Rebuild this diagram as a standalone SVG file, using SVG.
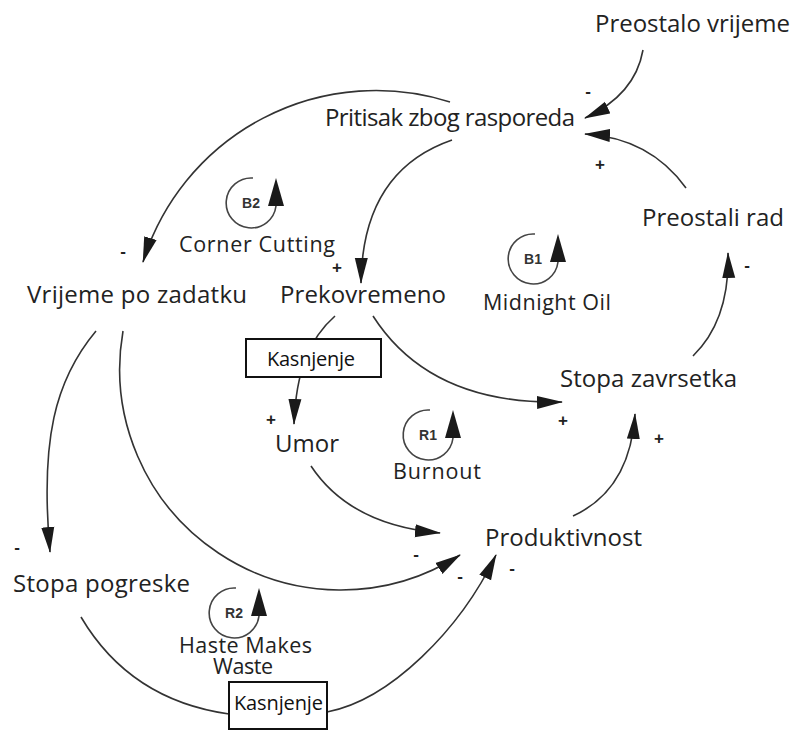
<svg xmlns="http://www.w3.org/2000/svg" width="796" height="733" viewBox="0 0 796 733">
<style>
  .lbl{font-family:"Open Sans","Noto Sans","DejaVu Sans",sans-serif;font-size:24px;fill:#222}
  .lname{font-family:"Open Sans","Noto Sans","DejaVu Sans",sans-serif;font-size:21.5px;fill:#222}
  .delay{font-family:"Open Sans","Noto Sans","DejaVu Sans",sans-serif;font-size:20px;fill:#111}
  .sign{font-family:"Liberation Sans",Arial,sans-serif;font-size:17px;font-weight:bold;fill:#222;text-anchor:middle}
  .conn{fill:none;stroke:#333;stroke-width:1.6}
  .arr{marker-end:url(#ah)}
  .box{fill:#fff;stroke:#111;stroke-width:2}
  .lid{font-family:"Liberation Sans",Arial,sans-serif;font-weight:bold;font-size:14px;fill:#333;text-anchor:middle}
  .larc{fill:none;stroke:#444;stroke-width:1.6}
  .lhead{fill:#1a1a1a}
</style>
<defs>
  <marker id="ah" markerUnits="userSpaceOnUse" markerWidth="26" markerHeight="14" viewBox="0 0 26 14" refX="25" refY="7" orient="auto">
    <path d="M0,0.5 L26,7 L0,13.5 Z" fill="#1a1a1a"/>
  </marker>
  <g id="loopsym">
    <path class="larc" d="M2,-25 A25,25 0 1 0 25,3"/>
    <polygon class="lhead" points="17,3 33,3 25,-25"/>
  </g>
</defs>

<g id="connectors">
  <path class="conn arr" d="M643,50 Q635,95 585,118"/>
  <path class="conn arr" d="M686,188 Q650,138 585,134"/>
  <path class="conn arr" d="M450,102 A244,244 0 0 0 143,262"/>
  <path class="conn arr" d="M452,140 C400,158 362,200 361,283"/>
  <path class="conn arr" d="M96,331 C55,380 40,440 50,552"/>
  <path class="conn arr" d="M123,331 A221,221 0 0 0 460,555"/>
  <path class="conn arr" d="M335,316 C310,338 296,370 294,424"/>
  <path class="conn arr" d="M373,316 Q430,405 562,402"/>
  <path class="conn arr" d="M693,356 Q730,320 728,253"/>
  <path class="conn arr" d="M573,516 Q630,490 635,414"/>
  <path class="conn arr" d="M311,466 Q350,525 440,533"/>
  <path class="conn" d="M81,617 Q130,700 229,714"/>
  <path class="conn arr" d="M327,712 C390,700 460,630 496,555"/>
</g>

<g id="signs">
  <text class="sign" x="588" y="97">-</text>
  <text class="sign" x="600" y="170">+</text>
  <text class="sign" x="123" y="257">-</text>
  <text class="sign" x="337" y="273">+</text>
  <text class="sign" x="747" y="271">-</text>
  <text class="sign" x="271" y="425">+</text>
  <text class="sign" x="563" y="426">+</text>
  <text class="sign" x="659" y="444">+</text>
  <text class="sign" x="17" y="553">-</text>
  <text class="sign" x="416" y="560">-</text>
  <text class="sign" x="460" y="582">-</text>
  <text class="sign" x="512" y="574">-</text>
</g>

<g id="preostalo-vrijeme"><text class="lbl" x="595" y="32" textLength="195">Preostalo vrijeme</text></g>
<g id="pritisak"><text class="lbl" x="325" y="126" textLength="250">Pritisak zbog rasporeda</text></g>
<g id="preostali-rad"><text class="lbl" x="642" y="226" textLength="142">Preostali rad</text></g>
<g id="vrijeme-po-zadatku"><text class="lbl" x="27" y="303" textLength="220">Vrijeme po zadatku</text></g>
<g id="prekovremeno"><text class="lbl" x="280" y="303" textLength="166">Prekovremeno</text></g>
<g id="stopa-zavrsetka"><text class="lbl" x="560" y="387" textLength="177">Stopa zavrsetka</text></g>
<g id="umor"><text class="lbl" x="275" y="452" textLength="64">Umor</text></g>
<g id="produktivnost"><text class="lbl" x="485" y="546" textLength="157">Produktivnost</text></g>
<g id="stopa-pogreske"><text class="lbl" x="13" y="592" textLength="177">Stopa pogreske</text></g>

<g id="delay1">
  <rect class="box" x="246" y="339" width="135" height="38"/>
  <text class="delay" x="267" y="366" textLength="88">Kasnjenje</text>
</g>
<g id="delay2">
  <rect class="box" x="229" y="682" width="98" height="47"/>
  <text class="delay" x="234" y="710" textLength="89">Kasnjenje</text>
</g>

<g id="loop-b2">
  <use href="#loopsym" x="251" y="203"/>
  <text class="lid" x="251" y="208">B2</text>
  <text class="lname" x="179" y="252" textLength="156">Corner Cutting</text>
</g>
<g id="loop-b1">
  <use href="#loopsym" x="533" y="259"/>
  <text class="lid" x="533" y="264">B1</text>
  <text class="lname" x="483" y="310" textLength="128">Midnight Oil</text>
</g>
<g id="loop-r1">
  <use href="#loopsym" x="428" y="435"/>
  <text class="lid" x="428" y="440">R1</text>
  <text class="lname" x="393" y="479" textLength="88">Burnout</text>
</g>
<g id="loop-r2">
  <use href="#loopsym" x="234" y="613"/>
  <text class="lid" x="234" y="618">R2</text>
  <text class="lname" x="179" y="653" textLength="133">Haste Makes</text>
  <text class="lname" x="213" y="674" textLength="60">Waste</text>
</g>
</svg>
